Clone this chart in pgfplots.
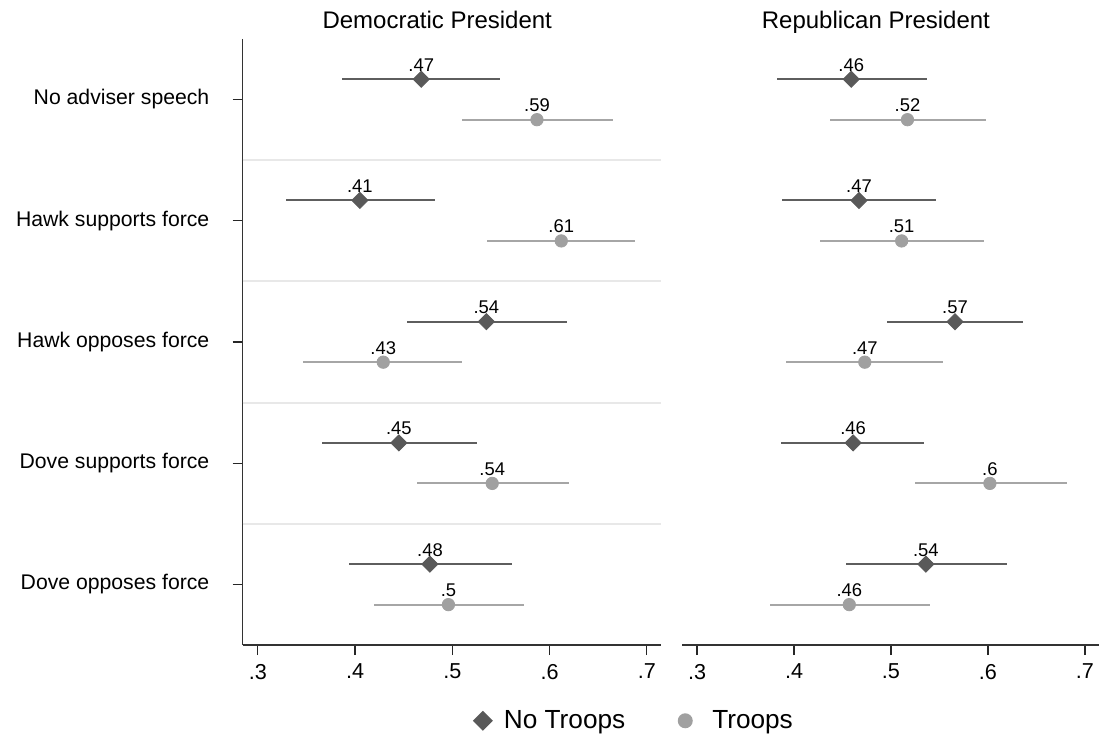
\documentclass[border=0pt]{standalone}
\usepackage{pgfplots}
\pgfplotsset{compat=1.18}
\usepackage{pgfplotstable}
\usepackage{fontspec}
\setmainfont{Liberation Sans}

\definecolor{dmark}{HTML}{595959}
\definecolor{dline}{HTML}{5E5E5E}
\definecolor{lmark}{HTML}{A0A0A0}
\definecolor{lline}{HTML}{A6A6A6}
\definecolor{sepc}{HTML}{E8E8E8}

% y: category index (1 = top), No Troops at -0.167, Troops at +0.167
\pgfplotstableread{
y x lo hi lab
0.833 0.468 0.387 0.549 .47
1.833 0.405 0.329 0.482 .41
2.833 0.535 0.453 0.618 .54
3.833 0.445 0.366 0.525 .45
4.833 0.477 0.394 0.561 .48
}\demNo
\pgfplotstableread{
y x lo hi lab
1.167 0.587 0.510 0.665 .59
2.167 0.612 0.536 0.688 .61
3.167 0.429 0.347 0.510 .43
4.167 0.541 0.464 0.620 .54
5.167 0.496 0.419 0.574 .5
}\demTr
\pgfplotstableread{
y x lo hi lab
0.833 0.459 0.382 0.537 .46
1.833 0.467 0.388 0.546 .47
2.833 0.566 0.496 0.636 .57
3.833 0.461 0.387 0.534 .46
4.833 0.536 0.454 0.620 .54
}\repNo
\pgfplotstableread{
y x lo hi lab
1.167 0.517 0.437 0.598 .52
2.167 0.511 0.427 0.596 .51
3.167 0.473 0.392 0.554 .47
4.167 0.602 0.525 0.681 .6
5.167 0.457 0.375 0.540 .46
}\repTr

\pgfplotsset{
  panel/.style={
    scale only axis,
    height=303.1pt,
    xmin=0.2845, xmax=0.7145,
    ymin=0.5, ymax=5.5, y dir=reverse,
    xtick={0.3,0.4,0.5,0.6,0.7},
    xticklabels={.3,.4,.5,.6,.7},
    tick align=outside,
    major tick length=5pt,
    tick style={line width=0.6pt, color=black!85},
    axis line style={line width=0.75pt, color=black!80},
    x tick label style={font=\fontsize{10.8}{12}\selectfont, yshift=-1pt},
    extra y ticks={1.5,2.5,3.5,4.5},
    extra y tick labels={},
    extra y tick style={grid=major, major grid style={sepc, line width=1pt}, tick style={draw=none}},
    title style={at={(0.5,1)}, anchor=base, yshift=-0.8pt, xshift=-7.3pt,
      font=\fontsize{12}{14}\selectfont},
    clip=false,
  },
  notroops/.style={
    only marks, mark=square*, mark size=2.85pt, color=dmark,
    mark options={rotate=45, fill=dmark, draw=none},
    error bars/x dir=both, error bars/x explicit, error bars/error mark=none,
    error bars/error bar style={line width=1pt, color=dline},
  },
  troops/.style={
    only marks, mark=*, mark size=3.1pt, color=lmark,
    mark options={fill=lmark, draw=none},
    error bars/x dir=both, error bars/x explicit, error bars/error mark=none,
    error bars/error bar style={line width=1pt, color=lline},
  },
  lbl/.style={
    nodes near coords, point meta=explicit symbolic,
    every node near coord/.style={anchor=base, yshift=4pt, inner sep=0pt,
      font=\fontsize{9.2}{10}\selectfont, text=black},
  },
}

\begin{document}
\begin{tikzpicture}
\path[use as bounding box] (0,0) rectangle (549.5pt,-370pt);

\begin{axis}[panel,
  at={(121.35pt,-322.5pt)}, anchor=south west,
  width=209.15pt,
  axis x line*=bottom, axis y line*=left,
  ytick={1,2,3,4,5},
  yticklabels={No adviser speech, Hawk supports force, Hawk opposes force, Dove supports force, Dove opposes force},
  y tick label style={font=\fontsize{10.6}{12}\selectfont, anchor=east, inner sep=0pt, xshift=-11.5pt},
  title={Democratic President},
  legend style={at={(0.5494,-0.1250)}, anchor=west, draw=none, fill=none,
    legend columns=2, inner sep=0pt,
    font=\fontsize{13.1}{15}\selectfont,
    /tikz/every even column/.append style={column sep=25pt},
    nodes={inner sep=0pt, outer sep=0pt}},
]
\addplot[notroops, lbl,
  legend image code/.code={\path[draw=none,fill=none] (-5pt,0pt) -- (10.5pt,0pt);
    \fill[dmark, draw=none, rotate=45] (-3.54pt,-3.54pt) rectangle (3.54pt,3.54pt);}]
  table[x=x, y=y, meta=lab,
    x error plus expr=\thisrow{hi}-\thisrow{x},
    x error minus expr=\thisrow{x}-\thisrow{lo}] {\demNo};
\addlegendentry{No Troops}
\addplot[troops, lbl,
  legend image code/.code={\path[draw=none,fill=none] (-5pt,0pt) -- (13.5pt,0pt);
    \fill[lmark, draw=none] (0pt,0pt) circle (3.75pt);}]
  table[x=x, y=y, meta=lab,
    x error plus expr=\thisrow{hi}-\thisrow{x},
    x error minus expr=\thisrow{x}-\thisrow{lo}] {\demTr};
\addlegendentry{Troops}
\end{axis}

\begin{axis}[panel,
  at={(341pt,-322.5pt)}, anchor=south west,
  width=208.5pt,
  axis x line*=bottom, axis y line=none,
  ytick=\empty,
  title={Republican President},
]
\addplot[notroops, lbl]
  table[x=x, y=y, meta=lab,
    x error plus expr=\thisrow{hi}-\thisrow{x},
    x error minus expr=\thisrow{x}-\thisrow{lo}] {\repNo};
\addplot[troops, lbl]
  table[x=x, y=y, meta=lab,
    x error plus expr=\thisrow{hi}-\thisrow{x},
    x error minus expr=\thisrow{x}-\thisrow{lo}] {\repTr};
\end{axis}
\end{tikzpicture}
\end{document}
